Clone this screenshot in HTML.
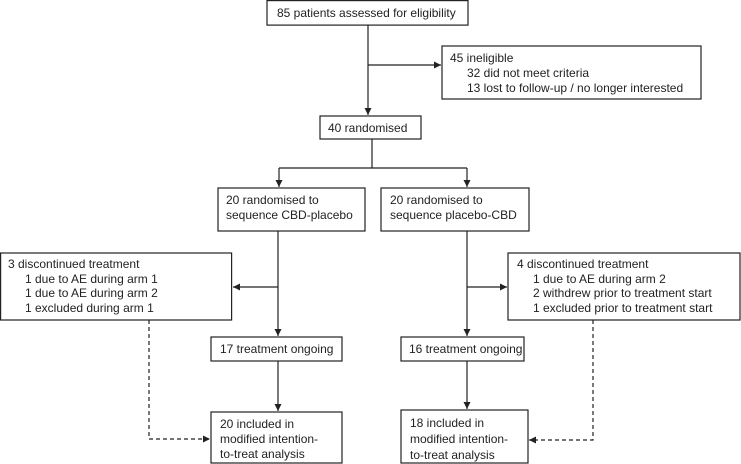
<!DOCTYPE html>
<html><head><style>
html,body{margin:0;padding:0;background:#fff;}
svg{display:block;}
text{font-family:"Liberation Sans",sans-serif;font-size:12px;fill:#222;}
</style></head><body>
<svg width="741" height="464" viewBox="0 0 741 464" xmlns="http://www.w3.org/2000/svg">
<defs>
<marker id="a" markerWidth="8" markerHeight="8" refX="7" refY="4" orient="auto" markerUnits="userSpaceOnUse">
<path d="M0,0.5 L7,4 L0,7.5 Z" fill="#222"/></marker>
</defs>
<g fill="#fff" stroke="#222" stroke-width="1.2">
<rect x="267" y="0.6" width="201" height="24.5"/>
<rect x="442" y="46" width="259" height="53"/>
<rect x="320" y="116" width="101" height="23"/>
<rect x="218" y="188" width="147" height="43"/>
<rect x="381" y="188" width="148" height="43"/>
<rect x="0.6" y="253" width="231" height="67"/>
<rect x="508" y="253" width="232" height="67"/>
<rect x="211" y="337" width="131" height="24"/>
<rect x="401" y="337" width="123" height="24"/>
<rect x="211" y="412" width="131" height="51"/>
<rect x="401" y="410" width="127" height="53"/>
</g>
<g stroke="#222" stroke-width="1.2" fill="none">
<line x1="368" y1="25" x2="368" y2="115" marker-end="url(#a)"/>
<line x1="368" y1="65" x2="441" y2="65" marker-end="url(#a)"/>
<line x1="372" y1="139" x2="372" y2="168"/>
<line x1="279" y1="168" x2="467" y2="168"/>
<line x1="279" y1="168" x2="279" y2="187" marker-end="url(#a)"/>
<line x1="467" y1="168" x2="467" y2="187" marker-end="url(#a)"/>
<line x1="278" y1="231" x2="278" y2="336" marker-end="url(#a)"/>
<line x1="278" y1="287" x2="233" y2="287" marker-end="url(#a)"/>
<line x1="467" y1="231" x2="467" y2="336" marker-end="url(#a)"/>
<line x1="467" y1="287" x2="507" y2="287" marker-end="url(#a)"/>
<line x1="278" y1="361" x2="278" y2="411" marker-end="url(#a)"/>
<line x1="467" y1="361" x2="467" y2="409" marker-end="url(#a)"/>
<polyline points="149,320 149,439 210,439" stroke-dasharray="4,3" marker-end="url(#a)"/>
<polyline points="593,320 593,440 529,440" stroke-dasharray="4,3" marker-end="url(#a)"/>
</g>
<text x="277" y="17">85 patients assessed for eligibility</text>
<text x="450" y="62">45 ineligible</text>
<text x="467" y="77">32 did not meet criteria</text>
<text x="467" y="92">13 lost to follow-up / no longer interested</text>
<text x="328" y="132">40 randomised</text>
<text x="226" y="204">20 randomised to</text>
<text x="226" y="219">sequence CBD-placebo</text>
<text x="390" y="204">20 randomised to</text>
<text x="390" y="219">sequence placebo-CBD</text>
<text x="8" y="268">3 discontinued treatment</text>
<text x="25" y="283">1 due to AE during arm 1</text>
<text x="25" y="297">1 due to AE during arm 2</text>
<text x="25" y="312">1 excluded during arm 1</text>
<text x="517" y="268">4 discontinued treatment</text>
<text x="533" y="283">1 due to AE during arm 2</text>
<text x="533" y="297">2 withdrew prior to treatment start</text>
<text x="533" y="312">1 excluded prior to treatment start</text>
<text x="220" y="353">17 treatment ongoing</text>
<text x="409" y="353">16 treatment ongoing</text>
<text x="220" y="428">20 included in</text>
<text x="220" y="443">modified intention-</text>
<text x="220" y="458">to-treat analysis</text>
<text x="410" y="427">18 included in</text>
<text x="410" y="443">modified intention-</text>
<text x="410" y="459">to-treat analysis</text>
</svg>
</body></html>
